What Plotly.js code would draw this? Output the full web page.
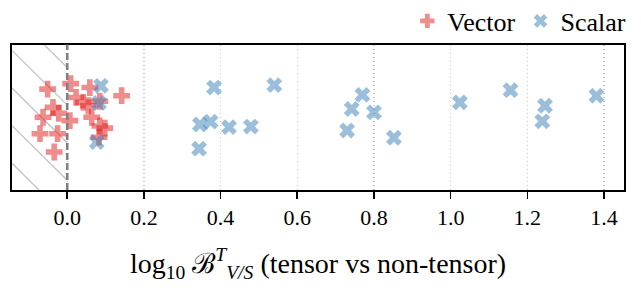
<!DOCTYPE html>
<html>
<head>
<meta charset="utf-8">
<script src="https://cdn.plot.ly/plotly-3.0.1.min.js"></script>
<style>
html,body{margin:0;padding:0;background:#fff;}
#chart{width:641px;height:288px;}
</style>
</head>
<body>
<div id="chart"></div>
<script>
// Data
const vectorX = [-0.051, 0.009, 0.023, 0.042, 0.055, -0.037, -0.022, -0.063, 0.007, -0.071, -0.025, -0.034, 0.059, 0.142, 0.064, 0.085, 0.098, 0.083, 0.085];
const vectorY = [0.693, 0.731, 0.636, 0.602, 0.579, 0.568, 0.527, 0.500, 0.477, 0.387, 0.387, 0.261, 0.704, 0.648, 0.500, 0.440, 0.425, 0.363, 0.610];
const scalarX = [0.088, 0.083, 0.077, 0.383, 0.540, 0.346, 0.374, 0.422, 0.479, 0.344, 0.770, 0.742, 0.800, 0.730, 0.852, 1.024, 1.156, 1.246, 1.239, 1.380];
const scalarY = [0.716, 0.598, 0.329, 0.704, 0.721, 0.450, 0.470, 0.432, 0.436, 0.284, 0.654, 0.557, 0.534, 0.409, 0.359, 0.602, 0.686, 0.579, 0.472, 0.648];
const tickVals = [0.0, 0.2, 0.4, 0.6, 0.8, 1.0, 1.2, 1.4];
const tickText = ['0.0', '0.2', '0.4', '0.6', '0.8', '1.0', '1.2', '1.4'];

const xRange = [-0.144, 1.452];
const yRange = [0, 1];
const W = 641, H = 288;
const M = {l: 12, r: 17, t: 43, b: 98};
const plotW = W - M.l - M.r, plotH = H - M.t - M.b;
const pxPerX = plotW / (xRange[1] - xRange[0]);
const x0px = (0 - xRange[0]) * pxPerX;

// hatch (diagonal "\" lines) over the region x < 0
const shapes = [];
const spacing = 38;
for (let c = -32 - spacing * 2; c < plotH; c += spacing) {
  const xa = Math.max(0, -c), xb = Math.min(x0px, plotH - c);
  if (xb <= xa) continue;
  shapes.push({
    type: 'line', layer: 'below', xref: 'x', yref: 'y',
    x0: xRange[0] + xa / pxPerX, y0: 1 - (xa + c) / plotH,
    x1: xRange[0] + xb / pxPerX, y1: 1 - (xb + c) / plotH,
    line: {color: 'rgba(195,195,195,1)', width: 1.3}
  });
}
shapes.push({
  type: 'line', layer: 'above', xref: 'x', yref: 'paper',
  x0: 0, x1: 0, y0: 0, y1: 1,
  line: {color: '#808080', width: 2.6, dash: '7px,3px'}
});

const font = 'Liberation Serif';

const traces = [
  {
    type: 'scatter', mode: 'markers', name: 'Vector',
    x: vectorX, y: vectorY,
    marker: {symbol: 'cross', size: 14, color: 'rgba(228,26,28,0.5)', line: {width: 0}}
  },
  {
    type: 'scatter', mode: 'markers', name: 'Scalar',
    x: scalarX, y: scalarY,
    marker: {symbol: 'x', size: 14, color: 'rgba(55,126,184,0.5)', line: {width: 0}}
  }
];

const layout = {
  width: W, height: H,
  margin: M,
  paper_bgcolor: '#fff', plot_bgcolor: '#fff',
  font: {family: font, color: '#000', size: 20},
  showlegend: true,
  legend: {
    orientation: 'h', x: 1.012, xanchor: 'right',
    yref: 'container', y: 1 - 21 / H, yanchor: 'middle',
    font: {family: font, size: 26, color: '#000'},
    bgcolor: 'rgba(0,0,0,0)', itemsizing: 'constant', tracegroupgap: 0
  },
  xaxis: {
    range: xRange, tickvals: tickVals, ticktext: tickText,
    ticks: 'outside', ticklen: 7, tickwidth: 1.6, tickcolor: '#000',
    showline: true, linecolor: '#000', linewidth: 1.6, mirror: true,
    showgrid: true, gridcolor: '#c4c4c4', gridwidth: 1.2, griddash: '1.5px,2.5px',
    zeroline: false,
    tickfont: {family: font, size: 22},
    title: {
      text: 'log<sub>10</sub> ℬ<sup><i>T</i></sup><sub><i>V/S</i></sub> (tensor vs non-tensor)',
      font: {family: font, size: 28}, standoff: 24
    }
  },
  yaxis: {
    range: yRange, showticklabels: false, ticks: '',
    showline: true, linecolor: '#000', linewidth: 1.6, mirror: true,
    showgrid: false, zeroline: false
  },
  shapes: shapes
};

Plotly.newPlot('chart', traces, layout, {staticPlot: true, displayModeBar: false});
</script>
</body>
</html>
